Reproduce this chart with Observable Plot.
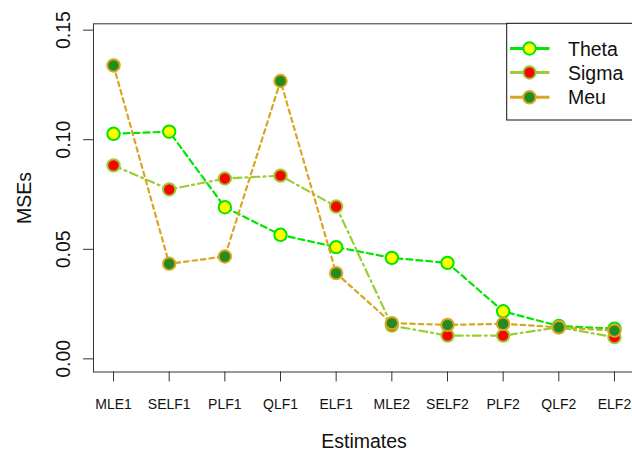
<!DOCTYPE html>
<html>
<head>
<meta charset="utf-8">
<script src="https://cdn.jsdelivr.net/npm/d3@7"></script>
<script src="https://cdn.jsdelivr.net/npm/@observablehq/plot@0.6"></script>
<style>
  html, body { margin: 0; padding: 0; background: white; overflow: hidden; }
  #chart { width: 632px; height: 454px; }
</style>
</head>
<body>
<div id="chart"></div>
<script>
const estimates = ["MLE1","SELF1","PLF1","QLF1","ELF1","MLE2","SELF2","PLF2","QLF2","ELF2"];
const theta = [0.1027,0.1037,0.0692,0.0566,0.0510,0.0461,0.0438,0.0217,0.0150,0.0138];
const sigma = [0.0883,0.0773,0.0823,0.0836,0.0695,0.0152,0.0106,0.0106,0.0144,0.0099];
const meu   = [0.1339,0.0434,0.0467,0.1268,0.0391,0.0163,0.0155,0.0160,0.0144,0.0129];
const yTicks = [0, 0.05, 0.10, 0.15];
const seriesNames = ["Theta", "Sigma", "Meu"];

const series = [
  {name: seriesNames[0], values: theta, line: "#00e600", fill: "#ffff00", dash: "6,4"},
  {name: seriesNames[1], values: sigma, line: "#9acd32", fill: "#ff0000", dash: "8,4,2,4"},
  {name: seriesNames[2], values: meu,   line: "#daa520", fill: "#228b22", dash: "4.5,4"}
];

const font = "'Liberation Sans', Arial, sans-serif";
const marks = [];
for (const s of series) {
  const data = s.values.map((v, i) => ({x: i + 1, y: v}));
  marks.push(Plot.line(data, {x: "x", y: "y", stroke: s.line, strokeWidth: 2.2, strokeDasharray: s.dash}));
  marks.push(Plot.dot(data, {x: "x", y: "y", r: 6.2, fill: s.fill, stroke: s.line, strokeWidth: 2}));
}

const plot = Plot.plot({
  width: 632,
  height: 454,
  marginLeft: 93,
  marginRight: -2,
  marginTop: 23.3,
  marginBottom: 82.5,
  style: {fontFamily: font, background: "white", color: "#111"},
  x: {type: "linear", domain: [0.64, 10.36]},
  y: {domain: [-0.006, 0.1529]},
  marks: [
    Plot.frame({stroke: "#333", strokeWidth: 1}),
    Plot.axisX({ticks: d3.range(1, estimates.length + 1), tickFormat: i => estimates[i - 1],
      tickSize: 10, tickPadding: 17.5, fontSize: 14, stroke: "#333", label: null}),
    Plot.axisY({ticks: yTicks, tickFormat: () => "", tickSize: 10, stroke: "#333", label: null}),
    Plot.text(yTicks, {y: d => d, text: d => d.toFixed(2), frameAnchor: "left", dx: -24,
      rotate: -90, lineAnchor: "bottom", textAnchor: "middle", fontSize: 19.5, fill: "#111"}),
    Plot.text(["Estimates"], {text: d => d, frameAnchor: "bottom", dy: 75.5, lineAnchor: "bottom",
      fontSize: 19.5, fill: "#111"}),
    Plot.text(["MSEs"], {text: d => d, frameAnchor: "left", dx: -63, rotate: -90, lineAnchor: "bottom",
      textAnchor: "middle", fontSize: 19.5, fill: "#111"}),
    ...marks
  ]
});

document.getElementById("chart").appendChild(plot);

// Legend (R-style box at top right)
const svg = d3.select(plot);
const lg = svg.append("g");
lg.append("rect").attr("x", 506.7).attr("y", 23.3).attr("width", 140).attr("height", 96.7)
  .attr("fill", "white").attr("stroke", "#111").attr("stroke-width", 1);
const rows = [48.5, 72.5, 97.3];
series.forEach((s, i) => {
  const y = rows[i];
  lg.append("line").attr("x1", 510).attr("x2", 549.5).attr("y1", y).attr("y2", y)
    .attr("stroke", s.line).attr("stroke-width", 3);
  lg.append("circle").attr("cx", 529.5).attr("cy", y).attr("r", 6.2)
    .attr("fill", s.fill).attr("stroke", s.line).attr("stroke-width", 2);
  lg.append("text").attr("x", 568).attr("y", y + 7).text(s.name)
    .attr("text-anchor", "start")
    .attr("font-size", 19.5).attr("font-family", font).attr("fill", "#111");
});
</script>
</body>
</html>
